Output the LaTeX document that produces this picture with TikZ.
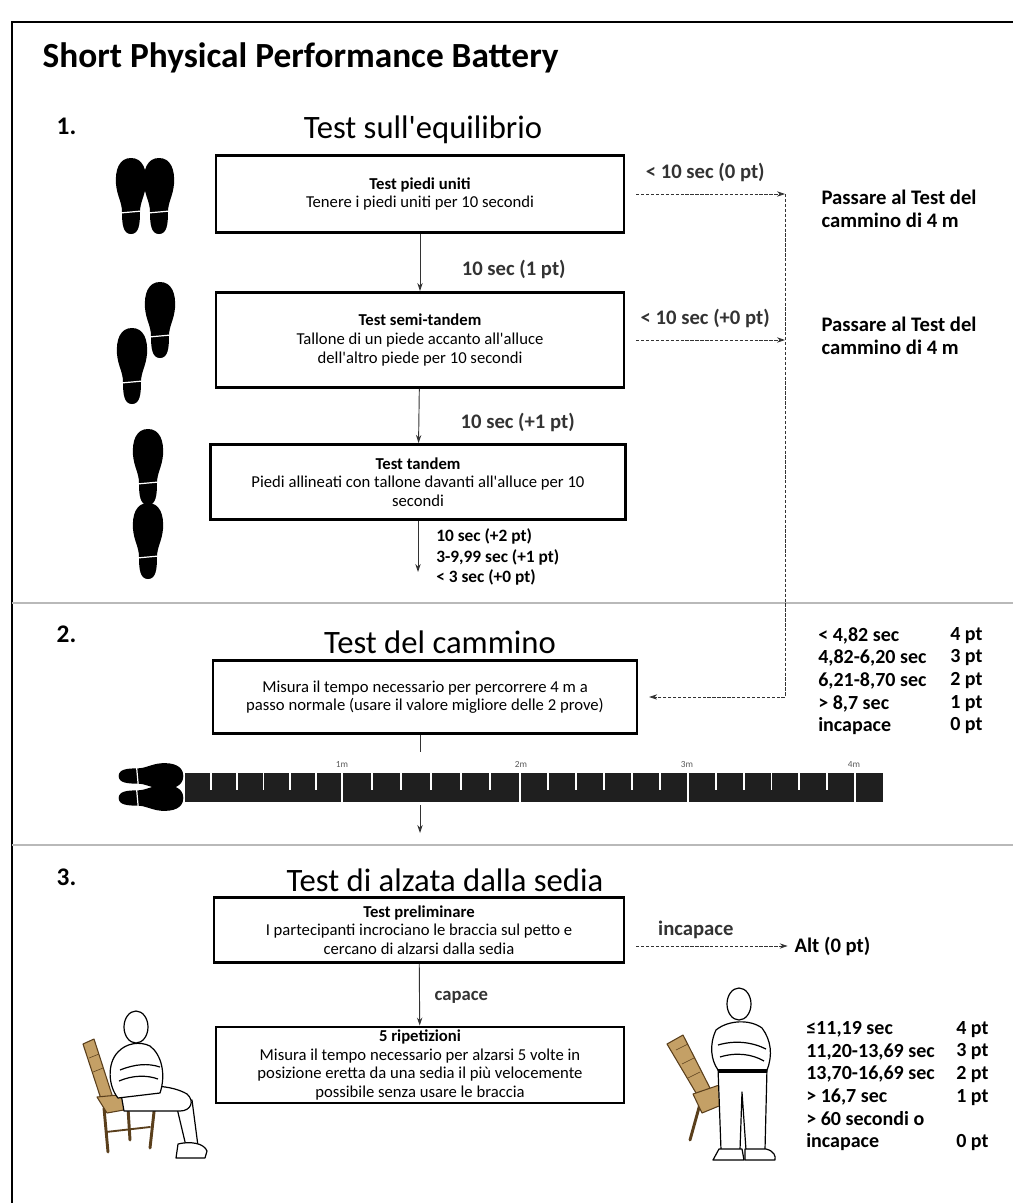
\documentclass[tikz,border=0pt]{standalone}
\usepackage{fontspec}
\setmainfont{Carlito}
\usetikzlibrary{arrows.meta,positioning}

\definecolor{chairwood}{HTML}{C4A066}
\definecolor{chairline}{HTML}{5A3F1C}
\newcommand{\ap}{\textquotesingle}

\tikzset{
  box/.style={draw, line width=2.2pt, align=center, inner sep=2pt,
    font=\fontsize{12.5}{14}\selectfont},
  lbl/.style={font=\bfseries\fontsize{15.5}{17.25}\selectfont, inner sep=1pt},
  small/.style={font=\bfseries\fontsize{13}{15.4}\selectfont, inner sep=0pt, align=left},
  score/.style={font=\bfseries\fontsize{15}{17}\selectfont, inner sep=0pt, align=left, anchor=north west},
  head/.style={font=\fontsize{24.5}{28}\selectfont},
  num/.style={font=\bfseries\fontsize{19}{22}\selectfont, anchor=west},
  arr/.style={->, >={Stealth[length=6pt,width=4pt]}, line width=0.7pt, black!80},
  dasharr/.style={arr, dash pattern=on 2.5pt off 1.2pt, line width=0.6pt},
  sep/.style={gray!55, line width=2.2pt},
  tick/.style={white, line width=1.3pt},
  mlbl/.style={font=\fontsize{7}{8}\selectfont, text=gray!70!black, inner sep=0pt},
  body/.style={draw=black, fill=white, line width=0.9pt, line join=round},
  wood/.style={draw=chairline, fill=chairwood, line width=0.8pt, line join=round},
  leg/.style={chairline, line width=2.2pt, line cap=round},
  sole/.pic={
    \fill[black] (0,-38) .. controls (12,-38) and (16,-26) .. (15,-12)
      .. controls (14,0) and (9,6) .. (9,16) .. controls (9,28) and (8,38) .. (0,38)
      .. controls (-8,38) and (-9,28) .. (-9,16) .. controls (-9,6) and (-14,0) .. (-15,-12)
      .. controls (-16,-26) and (-12,-38) .. (0,-38) -- cycle;
    \draw[white, line width=0.9pt] (-11,17) -- (11,15);
  }
}

\begin{document}
\begin{tikzpicture}[x=0.75pt, y=-0.75pt]
  \useasboundingbox (0,0) rectangle (1013,1203);
  \draw[line width=1.2pt] (12,1203) -- (12,22) -- (1013,22);

  \node[font=\bfseries\fontsize{26.5}{30}\selectfont, anchor=west] (title) at (38,58) {Short Physical Performance Battery};

  % 1. equilibrio
  \node[num] (n1) at (52,126) {1.};
  \node[head] (h1) at (423,130) {Test sull\ap equilibrio};

  \node[box, minimum width=306pt, minimum height=57.75pt] (b1) at (420,194)
    {\textbf{Test piedi uniti}\\Tenere i piedi uniti per 10 secondi};
  \node[box, minimum width=306pt, minimum height=71.25pt] (b2) at (420,340)
    {\textbf{Test semi-tandem}\\Tallone di un piede accanto all\ap alluce\\dell\ap altro piede per 10 secondi};
  \node[box, minimum width=311.25pt, minimum height=56.25pt] (b3) at (418,482)
    {\textbf{Test tandem}\\Piedi allineati con tallone davanti all\ap alluce per 10\\secondi};
  \coordinate (t3) at (418,572);

  \path[arr] (b1) edge node[lbl, pos=0.62, right=30pt] {10 sec (1 pt)} (b2);
  \path[arr] (b2) edge node[lbl, pos=0.62, right=30pt] {10 sec (+1 pt)} (b3);
  \draw[arr] (b3) -- (t3);
  \node[small, anchor=west] (r3) at (436,557) {10 sec (+2 pt)\\3-9,99 sec (+1 pt)\\< 3 sec (+0 pt)};

  \pic at (131,196) {sole};
  \pic at (159,196) {sole};
  \pic at (160,320) {sole};
  \pic at (132,366) {sole};
  \pic at (148,467) {sole};
  \pic at (148,541) {sole};

  % uscita verso il test del cammino
  \coordinate (j1) at (785,194);
  \coordinate (j2) at (785,340);
  \draw[dasharr, shorten <=8pt] (b1) -- node[lbl, above=8pt] {< 10 sec (0 pt)} (j1);
  \draw[dasharr, shorten <=8pt] (b2) -- node[lbl, above=8pt] {< 10 sec (+0 pt)} (j2);
  \node[lbl, anchor=west, align=left] (p1) at (820,209) {Passare al Test del\\cammino di 4 m};
  \node[lbl, anchor=west, align=left] (p2) at (820,336) {Passare al Test del\\cammino di 4 m};

  \draw[sep] (12,603) -- (1013,603);

  % 2. cammino
  \node[num] (n2) at (52,634) {2.};
  \node[head] (h2) at (440,642) {Test del cammino};
  \node[box, minimum width=318pt, minimum height=54.75pt] (walk) at (425,697)
    {Misura il tempo necessario per percorrere 4 m a\\passo normale (usare il valore migliore delle 2 prove)};
  \draw[dasharr, shorten >=8pt] (j1) -- (j1 |- walk.east) -- (walk.east);

  \node[score] (s2a) at (818,627) {< 4,82 sec\\4,82-6,20 sec\\6,21-8,70 sec\\> 8,7 sec\\incapace};
  \node[score] (s2b) at (950,627) {4 pt\\3 pt\\2 pt\\1 pt\\0 pt};

  % metro
  \node[fill=black!88, minimum width=523.5pt, minimum height=21.75pt, inner sep=0pt] (ruler) at (534,787.5) {};
  \foreach \a/\b in {185/342, 342/520, 520/688, 688/855} {
    \foreach \k in {1,...,5}
      \draw[tick] ({\a+\k*(\b-\a)/6},773) -- ++(0,17);
    \draw[white, line width=1.8pt] (\b,773) -- (\b,802);
  }
  \foreach \m/\x in {1/342, 2/521, 3/687, 4/854}
    \node[mlbl] at (\x,764) {\m m};
  \pic[rotate=-90, scale=0.85] at (151,776) {sole};
  \pic[rotate=-90, scale=0.85] at (151,798) {sole};

  \coordinate (w1) at (420,752);
  \coordinate (w2) at (420,805);
  \coordinate (w3) at (420,833);
  \draw[line width=0.7pt, black!80] (walk.south -| w1) -- (w1);
  \draw[arr] (w2) -- (w3);

  \draw[sep] (12,845) -- (1013,845);

  % 3. alzata dalla sedia
  \node[num] (n3) at (52,877) {3.};
  \node[head] (h3) at (445,880) {Test di alzata dalla sedia};
  \node[box, minimum width=307.5pt, minimum height=48.75pt] (pre) at (419,930)
    {\textbf{Test preliminare}\\I partecipanti incrociano le braccia sul petto e\\cercano di alzarsi dalla sedia};
  \node[box, minimum width=306pt, minimum height=57pt] (rep) at (420,1065)
    {\textbf{5 ripetizioni}\\Misura il tempo necessario per alzarsi 5 volte in\\posizione eretta da una sedia il più velocemente\\possibile senza usare le braccia};
  \path[arr] (pre) edge node[lbl, font=\bfseries\fontsize{14}{16}\selectfont, pos=0.55, right=10pt] {capace} (rep);

  \node[lbl, anchor=west] (alt) at (793,946) {Alt (0 pt)};
  \draw[dasharr, shorten <=8pt, shorten >=4pt] (pre.east |- alt) -- node[lbl, pos=0.42, above=4pt] {incapace} (alt);

  \node[score] (s3a) at (806,1021) {≤11,19 sec\\11,20-13,69 sec\\13,70-16,69 sec\\> 16,7 sec\\> 60 secondi o\\incapace};
  \node[score] (s3b) at (956,1021) {4 pt\\3 pt\\2 pt\\1 pt\\\mbox{}\\0 pt};

  % persona seduta
  \draw[leg] (104,1108) -- (108,1152);
  \draw[leg] (155,1103) -- (150,1148);
  \draw[leg] (128,1108) -- (130,1140);
  \draw[leg, line width=1.4pt] (106,1132) -- (150,1127);
  \filldraw[wood] (83,1044) -- (94,1039) -- (113,1098) -- (102,1102) -- cycle;
  \filldraw[wood] (97,1097) -- (150,1092) -- (163,1103) -- (107,1113) -- cycle;
  \draw[chairline] (89,1058) -- (99,1054) (93,1072) -- (103,1068);
  \filldraw[body] (176,1104) -- (186,1146) -- (198,1146) -- (192,1100) -- cycle;
  \filldraw[body] (178,1144) .. controls (190,1141) and (204,1143) .. (207,1151) -- (205,1158) -- (176,1158) -- cycle;
  \filldraw[body] (120,1088) .. controls (145,1084) and (172,1085) .. (187,1094)
    .. controls (195,1101) and (191,1111) .. (180,1111) -- (124,1111) -- cycle;
  \filldraw[body] (118,1052) .. controls (107,1063) and (108,1086) .. (118,1098) -- (160,1093)
    .. controls (166,1075) and (162,1055) .. (150,1046) .. controls (140,1041) and (126,1043) .. (118,1052) -- cycle;
  \draw[line width=0.9pt] (120,1070) .. controls (135,1064) and (148,1063) .. (160,1067)
    (119,1081) .. controls (133,1075) and (147,1075) .. (158,1079);
  \filldraw[body] (136,1027) ellipse [x radius=9pt, y radius=12pt];

  % persona in piedi
  \filldraw[wood] (667,1044) -- (683,1035) -- (712,1092) -- (699,1098) -- cycle;
  \draw[chairline] (676,1050) -- (688,1044) (682,1064) -- (694,1058) (688,1078) -- (700,1072);
  \draw[leg] (700,1104) -- (690,1140);
  \draw[leg] (730,1098) -- (733,1132);
  \filldraw[wood] (693,1094) -- (728,1082) -- (736,1099) -- (702,1113) -- cycle;
  \filldraw[body] (718,1068) -- (721,1150) -- (740,1150) -- (742,1092) -- (746,1150) -- (765,1150) -- (767,1068) -- cycle;
  \filldraw[body] (719,1149) -- (742,1149) -- (744,1160) -- (713,1160) -- cycle;
  \filldraw[body] (745,1149) -- (766,1149) .. controls (774,1151) and (776,1156) .. (775,1160) -- (745,1160) -- cycle;
  \filldraw[body] (716,1030) .. controls (709,1045) and (711,1060) .. (718,1070) -- (767,1070)
    .. controls (773,1055) and (771,1040) .. (762,1028) .. controls (750,1019) and (728,1020) .. (716,1030) -- cycle;
  \draw[line width=0.9pt] (718,1045) .. controls (735,1040) and (752,1042) .. (766,1049)
    (720,1057) .. controls (736,1052) and (752,1054) .. (764,1061);
  \draw[line width=3pt] (718,1071) -- (767,1071);
  \filldraw[body] (739,1004) ellipse [x radius=9pt, y radius=12pt];
\end{tikzpicture}
\end{document}
